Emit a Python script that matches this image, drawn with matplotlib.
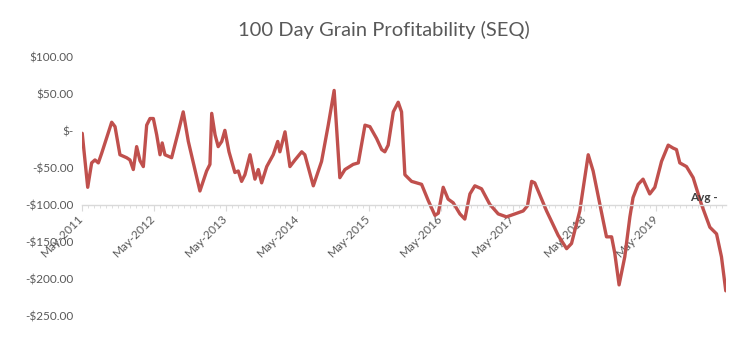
import matplotlib
matplotlib.use("Agg")
import matplotlib.pyplot as plt
import matplotlib.dates as mdates
import pandas as pd

plt.rcParams['font.family'] = ['Lato', 'DejaVu Sans']

title = "100 Day Grain Profitability (SEQ)"

dates = [
    "2011-05-02", "2011-05-30", "2011-06-19", "2011-07-06", "2011-07-23", "2011-08-09",
    "2011-09-29", "2011-10-16", "2011-11-10", "2011-12-14", "2011-12-31", "2012-01-17",
    "2012-02-03", "2012-02-20", "2012-03-08", "2012-03-25", "2012-04-11", "2012-04-28",
    "2012-05-15", "2012-06-01", "2012-06-12", "2012-06-26", "2012-07-30", "2012-09-02",
    "2012-09-27", "2012-10-23", "2012-12-21", "2013-01-24", "2013-02-10", "2013-02-19",
    "2013-03-08", "2013-03-24", "2013-04-11", "2013-04-27", "2013-05-18", "2013-06-17",
    "2013-07-04", "2013-07-21", "2013-08-07", "2013-09-02", "2013-09-27", "2013-10-14",
    "2013-10-31", "2013-11-26", "2013-12-29", "2014-01-21", "2014-02-01", "2014-02-27",
    "2014-03-24", "2014-04-19", "2014-05-23", "2014-06-08", "2014-07-21", "2014-09-01",
    "2014-10-05", "2014-11-04", "2014-12-03", "2014-12-29", "2015-02-09", "2015-03-07",
    "2015-04-10", "2015-05-05", "2015-06-08", "2015-07-04", "2015-07-20", "2015-08-06",
    "2015-09-01", "2015-09-26", "2015-10-13", "2015-10-30", "2015-12-03", "2016-01-23",
    "2016-02-26", "2016-03-31", "2016-04-17", "2016-05-12", "2016-06-06", "2016-07-02",
    "2016-08-05", "2016-08-30", "2016-09-25", "2016-10-20", "2016-11-23", "2017-01-04",
    "2017-02-16", "2017-03-30", "2017-05-12", "2017-06-23", "2017-07-15", "2017-08-05",
    "2017-08-21", "2017-10-20", "2017-12-18", "2018-01-30", "2018-02-24", "2018-04-07",
    "2018-05-20", "2018-06-14", "2018-08-04", "2018-08-21", "2018-09-16", "2018-10-02",
    "2018-10-24", "2018-11-22", "2018-12-18", "2019-01-03", "2019-01-29", "2019-02-23",
    "2019-03-29", "2019-04-24", "2019-05-28", "2019-07-01", "2019-07-26", "2019-08-12",
    "2019-08-29", "2019-10-02", "2019-11-05", "2019-12-17", "2020-01-29", "2020-03-03",
    "2020-03-28", "2020-04-19",
]

profit = [
    -3, -76, -43, -39, -43, -30,
    12, 6, -32, -36, -39, -52,
    -21, -40, -48, 8, 17, 17,
    -5, -32, -16, -32, -36, -1,
    26, -14, -81, -54, -45, 24,
    -5, -21, -14, 1, -28, -56,
    -54, -68, -59, -32, -65, -52,
    -70, -48, -32, -14, -28, -1,
    -48, -39, -28, -32, -74, -41,
    8, 55, -63, -52, -45, -43,
    8, 6, -10, -25, -28, -19,
    26, 39, 26, -59, -68, -72,
    -94, -114, -111, -76, -92, -97,
    -112, -119, -85, -74, -78, -99,
    -112, -116, -112, -108, -101, -68,
    -70, -108, -141, -159, -152, -108,
    -32, -54, -121, -143, -143, -165,
    -208, -170, -116, -90, -72, -65,
    -85, -76, -41, -19, -23, -25,
    -43, -48, -63, -99, -130, -139,
    -170, -216,
]

y_ticks = [100, 50, 0, -50, -100, -150, -200, -250]
y_tick_labels = ["$100.00", "$50.00", "$-", "-$50.00", "-$100.00", "-$150.00", "-$200.00", "-$250.00"]
x_tick_dates = ["2011-05-01", "2012-05-01", "2013-05-01", "2014-05-01", "2015-05-01",
                "2016-05-01", "2017-05-01", "2018-05-01", "2019-05-01"]
x_tick_labels = ["May-2011", "May-2012", "May-2013", "May-2014", "May-2015",
                 "May-2016", "May-2017", "May-2018", "May-2019"]
avg_label = "Avg -"

x = pd.to_datetime(dates)
fig = plt.figure(figsize=(7.49, 3.64), dpi=100)
ax = fig.add_axes([0.1095, 0.132, 0.8595, 0.711])

ax.plot(x, profit, color="#C0504D", linewidth=2.4, solid_joinstyle="round",
        solid_capstyle="round")

ax.set_xlim(pd.Timestamp("2011-05-01"), pd.Timestamp("2020-04-19"))
ax.set_ylim(-250, 100)

for s in ["top", "right", "left"]:
    ax.spines[s].set_visible(False)
ax.spines["bottom"].set_position(("data", -100))
ax.spines["bottom"].set_color("#D9D9D9")
ax.spines["bottom"].set_linewidth(1.0)

ax.set_yticks(y_ticks)
ax.set_yticklabels(y_tick_labels)
ax.tick_params(axis="y", length=0, pad=6, labelsize=8.5, labelcolor="#595959")

ax.set_xticks(pd.to_datetime(x_tick_dates))
ax.set_xticklabels(x_tick_labels, rotation=45, ha="right", va="center",
                   rotation_mode="anchor")
ax.xaxis.set_minor_locator(mdates.MonthLocator())
ax.tick_params(axis="x", which="major", length=4, color="#D9D9D9", pad=4,
               labelsize=8.5, labelcolor="#595959")
ax.tick_params(axis="x", which="minor", length=2, color="#D9D9D9")

ax.text(pd.Timestamp("2020-03-10"), -90, avg_label, ha="right", va="center",
        fontsize=8.5, color="#404040", fontweight="bold")

fig.text(0.512, 0.918, title, ha="center", va="center", fontsize=14.5, color="#595959")

fig.savefig("out.png", dpi=100)
